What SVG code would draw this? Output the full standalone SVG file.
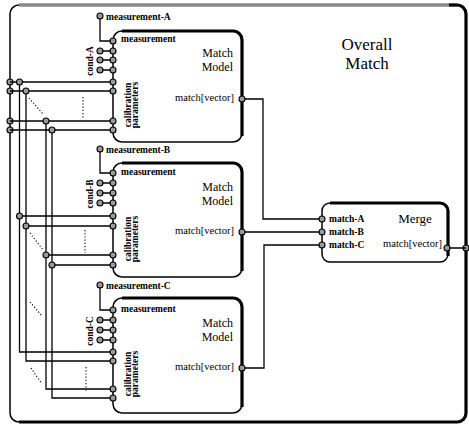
<svg xmlns="http://www.w3.org/2000/svg" width="469" height="427" viewBox="0 0 469 427">
<style>
.ln{fill:none;stroke:#000;stroke-width:1.3}
.dot{fill:none;stroke:#000;stroke-width:1.1;stroke-dasharray:1.2 2}
.thin{fill:#fff;stroke:#000;stroke-width:1.5}
.thick{fill:none;stroke:#000;stroke-width:3.2}
.pt{fill:#9a9a9a;stroke:#000;stroke-width:1.1}
text{font-family:"Liberation Serif","Times New Roman",serif;fill:#000}
.lb{font-size:9.5px;font-weight:bold}
.lr{font-size:10.5px}
.big{font-size:12px}
.ttl{font-size:17px}
</style>
<g id="outer">
<rect x="10" y="5" width="456" height="417" rx="9" fill="#fff" stroke="#000" stroke-width="1.5"/>
<path d="M19,5 H457" stroke="#888" stroke-width="3.5" fill="none"/>
<path d="M449,5 H457 A9 9 0 0 1 466 14 V413 A9 9 0 0 1 457 422 H19" class="thick" stroke-width="2.4"/>
<text class="ttl" x="367" y="49.5" text-anchor="middle">Overall</text>
<text class="ttl" x="367" y="69" text-anchor="middle">Match</text>
<circle class="pt" cx="10" cy="82" r="3"/>
<circle class="pt" cx="10" cy="91" r="3"/>
<circle class="pt" cx="10" cy="121" r="3"/>
<circle class="pt" cx="10" cy="130" r="3"/>
<circle class="pt" cx="466" cy="248" r="3"/>
</g>
<g id="connectors">
<path class="ln" d="M10,82 H113 M10,91 H113 M10,121 H113 M10,130 H113"/>
<path class="ln" d="M19.5,82 V352 H113 M26,91 V361 H113 M46,121 V389 H113 M52,130 V398 H113"/>
<path class="ln" d="M19.5,216 H113 M26,226 H113 M46,255 H113 M52,265 H113"/>
<path class="dot" d="M29,98 L43,114 M30,233 L43,250 M30,302 L42,316 M31,368 L42,384"/>
<path class="dot" d="M83,97 V118 M85,230 V253 M86,367 V392"/>
<path class="ln" d="M100,16 V41 H113 M100,51 H113 M100,60 H113 M100,70 H113"/>
<path class="ln" d="M100,149 V173 H113 M100,183 H113 M100,193 H113 M100,203 H113"/>
<path class="ln" d="M100,285 V310 H113 M100,320 H113 M100,330 H113 M100,340 H113"/>
<path class="ln" d="M242,99 H263 V219 H322 M242,232 H322 M242,368 H264 V245 H322 M447,248 H466"/>
<circle class="pt" cx="19.5" cy="82" r="3"/>
<circle class="pt" cx="26" cy="91" r="3"/>
<circle class="pt" cx="46" cy="121" r="3"/>
<circle class="pt" cx="52" cy="130" r="3"/>
<circle class="pt" cx="19.5" cy="216" r="3"/>
<circle class="pt" cx="26" cy="226" r="3"/>
<circle class="pt" cx="46" cy="255" r="3"/>
<circle class="pt" cx="52" cy="265" r="3"/>
<circle class="pt" cx="100" cy="16" r="3"/>
<circle class="pt" cx="100" cy="51" r="3"/>
<circle class="pt" cx="100" cy="60" r="3"/>
<circle class="pt" cx="100" cy="70" r="3"/>
<circle class="pt" cx="100" cy="149" r="3"/>
<circle class="pt" cx="100" cy="183" r="3"/>
<circle class="pt" cx="100" cy="193" r="3"/>
<circle class="pt" cx="100" cy="203" r="3"/>
<circle class="pt" cx="100" cy="285" r="3"/>
<circle class="pt" cx="100" cy="320" r="3"/>
<circle class="pt" cx="100" cy="330" r="3"/>
<circle class="pt" cx="100" cy="340" r="3"/>
<text class="lb" x="106" y="19.5" font-size="10">measurement-A</text>
<text class="lb" x="106" y="152.5">measurement-B</text>
<text class="lb" x="106" y="288.5">measurement-C</text>
<text class="lb" transform="translate(93,61) rotate(-90)" text-anchor="middle">cond-A</text>
<text class="lb" transform="translate(93,194) rotate(-90)" text-anchor="middle">cond-B</text>
<text class="lb" transform="translate(93,331) rotate(-90)" text-anchor="middle">cond-C</text>
</g>
<g id="modelA">
<rect class="thin" x="113" y="31" width="129" height="111" rx="9"/>
<path class="thick" d="M122,31 H233 A9 9 0 0 1 242 40 V136"/>
<text class="lb" x="121" y="42">measurement</text>
<text class="big" x="233" y="57" text-anchor="end">Match</text>
<text class="big" x="233" y="71" text-anchor="end">Model</text>
<text class="lr" x="234" y="101" text-anchor="end">match[vector]</text>
<text class="lb" transform="translate(130.5,105) rotate(-90)" text-anchor="middle">calibration</text>
<text class="lb" transform="translate(137.5,105) rotate(-90)" text-anchor="middle">parameters</text>
<circle class="pt" cx="113" cy="41" r="3"/>
<circle class="pt" cx="113" cy="51" r="3"/>
<circle class="pt" cx="113" cy="60" r="3"/>
<circle class="pt" cx="113" cy="70" r="3"/>
<circle class="pt" cx="113" cy="82" r="3"/>
<circle class="pt" cx="113" cy="91" r="3"/>
<circle class="pt" cx="113" cy="121" r="3"/>
<circle class="pt" cx="113" cy="130" r="3"/>
<circle class="pt" cx="242" cy="99" r="3"/>
</g>
<g id="modelB">
<rect class="thin" x="113" y="163" width="129" height="114" rx="9"/>
<path class="thick" d="M122,163 H233 A9 9 0 0 1 242 172 V271"/>
<text class="lb" x="121" y="175">measurement</text>
<text class="big" x="233" y="191" text-anchor="end">Match</text>
<text class="big" x="233" y="205" text-anchor="end">Model</text>
<text class="lr" x="234" y="234" text-anchor="end">match[vector]</text>
<text class="lb" transform="translate(130.5,239) rotate(-90)" text-anchor="middle">calibration</text>
<text class="lb" transform="translate(137.5,239) rotate(-90)" text-anchor="middle">parameters</text>
<circle class="pt" cx="113" cy="173" r="3"/>
<circle class="pt" cx="113" cy="183" r="3"/>
<circle class="pt" cx="113" cy="193" r="3"/>
<circle class="pt" cx="113" cy="203" r="3"/>
<circle class="pt" cx="113" cy="216" r="3"/>
<circle class="pt" cx="113" cy="226" r="3"/>
<circle class="pt" cx="113" cy="255" r="3"/>
<circle class="pt" cx="113" cy="265" r="3"/>
<circle class="pt" cx="242" cy="232" r="3"/>
</g>
<g id="modelC">
<rect class="thin" x="113" y="298" width="129" height="115" rx="9"/>
<path class="thick" d="M122,298 H233 A9 9 0 0 1 242 307 V407"/>
<text class="lb" x="121" y="312">measurement</text>
<text class="big" x="233" y="327" text-anchor="end">Match</text>
<text class="big" x="233" y="341" text-anchor="end">Model</text>
<text class="lr" x="234" y="370" text-anchor="end">match[vector]</text>
<text class="lb" transform="translate(130.5,374) rotate(-90)" text-anchor="middle">calibration</text>
<text class="lb" transform="translate(137.5,374) rotate(-90)" text-anchor="middle">parameters</text>
<circle class="pt" cx="113" cy="310" r="3"/>
<circle class="pt" cx="113" cy="320" r="3"/>
<circle class="pt" cx="113" cy="330" r="3"/>
<circle class="pt" cx="113" cy="340" r="3"/>
<circle class="pt" cx="113" cy="352" r="3"/>
<circle class="pt" cx="113" cy="361" r="3"/>
<circle class="pt" cx="113" cy="389" r="3"/>
<circle class="pt" cx="113" cy="398" r="3"/>
<circle class="pt" cx="242" cy="368" r="3"/>
</g>
<g id="merge">
<rect class="thin" x="322" y="203" width="126" height="59" rx="8"/>
<path class="thick" d="M330,203 H440 A8 8 0 0 1 448 211 V256"/>
<text x="415" y="223" font-size="13" text-anchor="middle">Merge</text>
<text class="lb" x="329" y="222" font-size="9">match-A</text>
<text class="lb" x="329" y="235" font-size="9">match-B</text>
<text class="lb" x="329" y="248" font-size="9">match-C</text>
<text class="lr" x="442" y="247" text-anchor="end">match[vector]</text>
<circle class="pt" cx="322" cy="219" r="3"/>
<circle class="pt" cx="322" cy="232" r="3"/>
<circle class="pt" cx="322" cy="245" r="3"/>
<circle class="pt" cx="447" cy="248" r="3"/>
</g>
</svg>
